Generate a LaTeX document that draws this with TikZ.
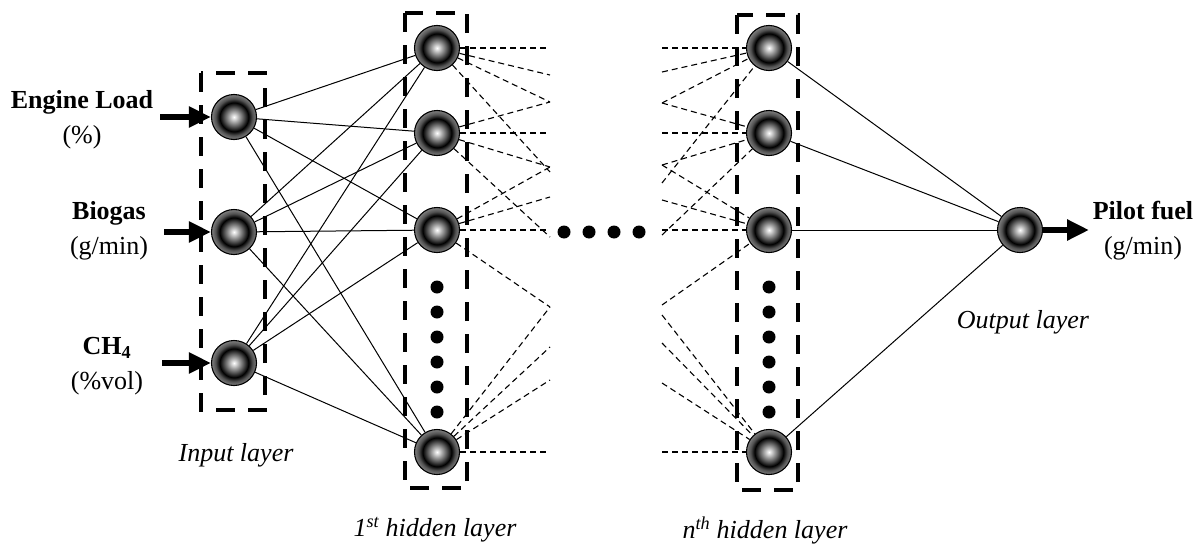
\documentclass[tikz,border=0pt]{standalone}
\usepackage{fontspec}
\setmainfont{Liberation Serif}
\usetikzlibrary{arrows.meta,positioning,calc}

\pgfdeclareradialshading{neuronball}{\pgfpoint{0bp}{0bp}}{color(0bp)=(white); color(2.5bp)=(white!85!black); color(10bp)=(black!62); color(16bp)=(black); color(20.5bp)=(black!68); color(25bp)=(black!50); color(50bp)=(black!50)}

\begin{document}
\begin{tikzpicture}[x=1pt,y=-1pt,
    neuron/.style={circle,draw,line width=1.1pt,minimum size=45pt,inner sep=0pt,shading=neuronball},
    layerbox/.style={line width=4pt,dash pattern=on 19pt off 13pt},
    link/.style={line width=1pt},
    dlink/.style={line width=1.1pt,dash pattern=on 6pt off 4pt},
    feed/.style={line width=6.5pt,-{Triangle[length=22pt,width=20pt]}},
    dot/.style={circle,fill,inner sep=0pt,minimum size=13pt},
    varlbl/.style={font=\fontsize{26}{35}\selectfont,align=center},
    layerlbl/.style={font=\fontsize{26}{30}\selectfont\itshape}]
    \useasboundingbox (0,0) rectangle (1201,546);

    % Input layer
    \node[neuron] (in1) at (234,117) {};
    \node[neuron] (in2) at (234,232) {};
    \node[neuron] (in3) at (234,363) {};

    % First hidden layer
    \foreach \n/\y in {1/48,2/133,3/230,4/452}
        \node[neuron] (ha\n) at (437,\y) {};
    \foreach \k in {0,...,5}
        \node[dot] (va\k) at (437,{287+25*\k}) {};

    % Last hidden layer
    \foreach \n/\y in {1/48,2/133,3/230,4/452}
        \node[neuron] (hn\n) at (769,\y) {};
    \foreach \k in {0,...,5}
        \node[dot] (vn\k) at (769,{287+25*\k}) {};

    % Output layer
    \node[neuron] (out) at (1020,230) {};

    % Skipped layers
    \foreach \k/\x in {1/564,2/589,3/614,4/639}
        \node[dot] (mid\k) at (\x,232) {};

    % Loose ends of the dashed links
    \foreach \p/\y in {la/75,lb/102,lc/167,ld/197,le/237,lf/307,lg/347,lh/380,lk/172}
        \coordinate (\p) at (550,\y);
    \foreach \p/\y in {ra/72,rb/103,rc/165,rd/183,re/200,rf/235,rg/305,rh/315,ri/343,rj/383}
        \coordinate (\p) at (662,\y);

    % Links
    \foreach \i in {1,2,3}
        \foreach \j in {1,...,4}
            \draw[link] (in\i) -- (ha\j);
    \foreach \n in {1,...,4}
        \draw[dlink] (ha\n) -- (ha\n -| la);
    \foreach \n/\p in {1/la,1/lb,1/lk,2/lb,2/lc,2/le,3/lc,3/ld,3/lf,4/lf,4/lg,4/lh}
        \draw[dlink] (ha\n) -- (\p);
    \foreach \n in {1,...,4}
        \draw[dlink] (hn\n -| ra) -- (hn\n);
    \foreach \n/\p in {1/ra,1/rb,1/rd,2/rb,2/rc,2/rf,3/rc,3/re,3/rg,4/rh,4/ri,4/rj}
        \draw[dlink] (\p) -- (hn\n);
    \foreach \n in {1,...,4}
        \draw[link] (hn\n) -- (out);

    % Layer boxes
    \draw[layerbox] (201,73) rectangle (265,410);
    \draw[layerbox] (405,13) rectangle (467,488);
    \draw[layerbox] (737,15) rectangle (798,490);

    % Inputs and output
    \coordinate (feed1) at (160,117);
    \coordinate (feed2) at (164,232);
    \coordinate (feed3) at (162,363);
    \coordinate (yield) at (1089,230);
    \foreach \i in {1,2,3}
        \draw[feed] (feed\i) -- (in\i);
    \draw[feed] (out) -- (yield);

    \node[varlbl] (load) at (82,120) {\textbf{Engine Load}\\(\%)};
    \node[varlbl] (biogas) at (109,231) {\textbf{Biogas}\\(g/min)};
    \node[varlbl] (methane) at (107,366) {\textbf{CH\textsubscript{4}}\\(\%vol)};
    \node[varlbl] (pilot) at (1143,231) {\textbf{Pilot fuel}\\(g/min)};

    \node[layerlbl] (inlayer) at (236,455) {Input layer};
    \node[layerlbl] (firstlayer) at (435,530) {1\textsuperscript{st} hidden layer};
    \node[layerlbl] (lastlayer) at (765,530) {n\textsuperscript{th} hidden layer};
    \node[layerlbl] (outlayer) at (1023,322) {Output layer};
\end{tikzpicture}
\end{document}
